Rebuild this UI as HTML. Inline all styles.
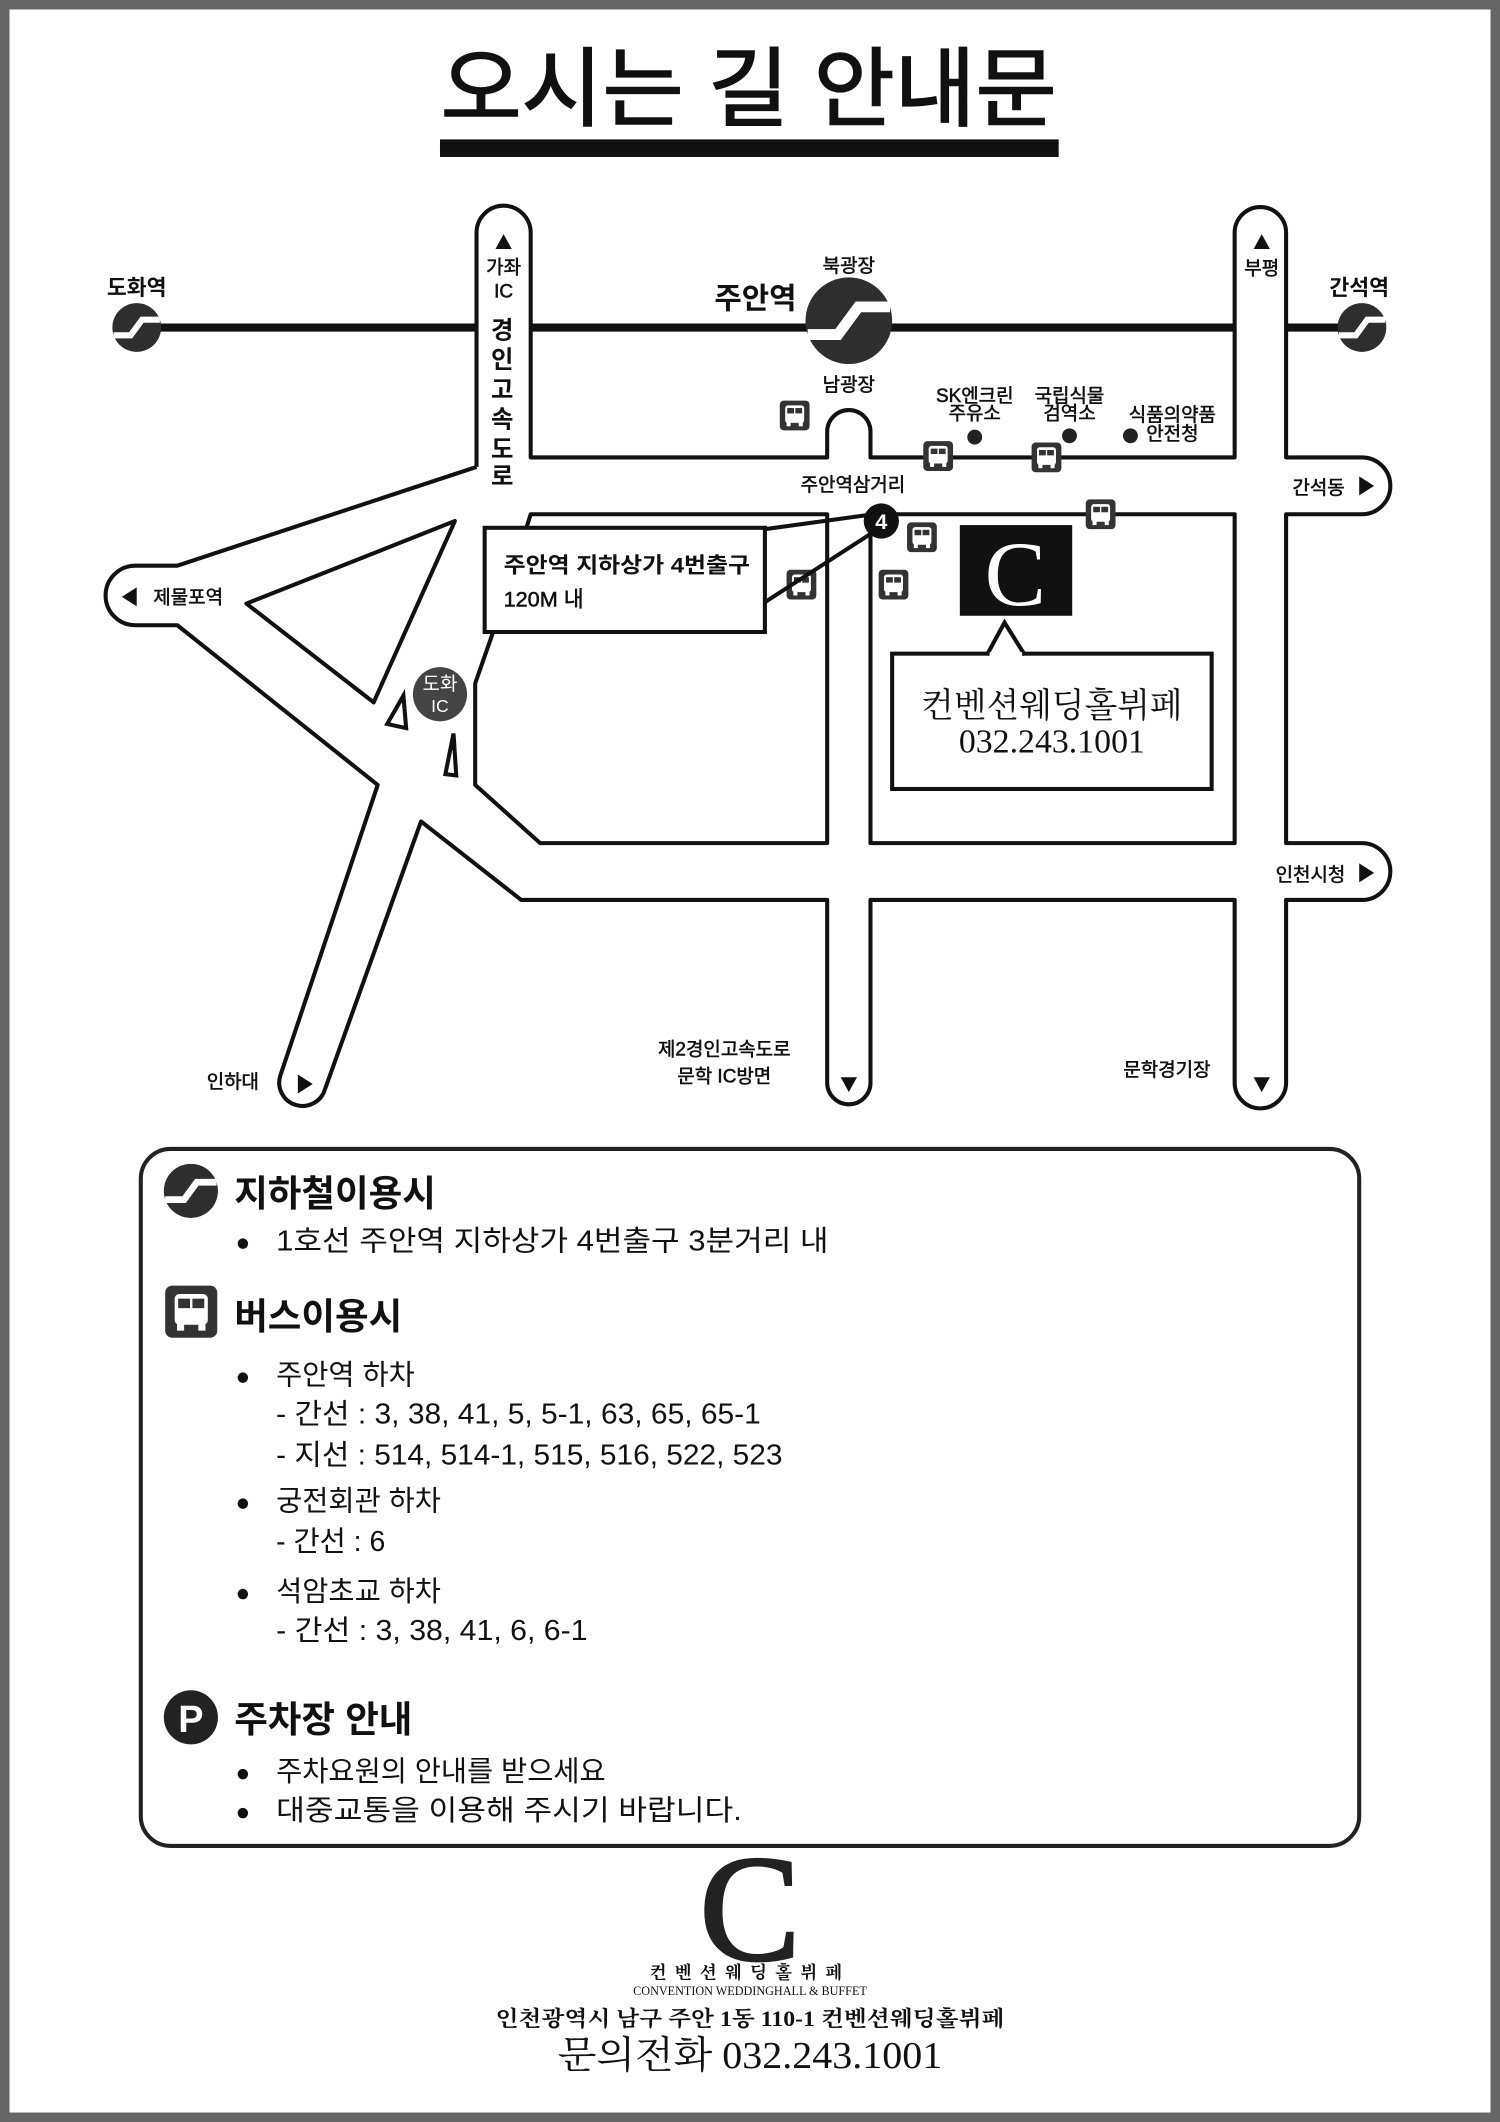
<!DOCTYPE html>
<html><head><meta charset="utf-8"><style>
html,body{margin:0;padding:0;background:#fff}
svg{display:block}
text{font-family:"Liberation Sans","Noto Sans CJK KR",sans-serif;fill:#111}
.b{font-weight:bold}
.sf{font-family:"Liberation Serif","Noto Serif CJK SC",serif}
</style></head><body>
<svg width="1500" height="2122" viewBox="0 0 1108 1568" preserveAspectRatio="none" xmlns="http://www.w3.org/2000/svg">
<defs>
<g id="st"><circle r="1" fill="#2e2e2e"/><polyline points="-0.95,0.32 -0.25,0.32 0.22,-0.32 0.95,-0.32" fill="none" stroke="#fff" stroke-width="0.25"/></g>
<g id="bus"><rect x="0" y="0" width="22" height="22" rx="3" fill="#333"/><rect x="4" y="3.5" width="14" height="13" rx="2" fill="#fff"/><rect x="5.5" y="5.5" width="5" height="4" fill="#333"/><rect x="11.5" y="5.5" width="5" height="4" fill="#333"/><rect x="5" y="16" width="3" height="3" fill="#fff"/><rect x="14" y="16" width="3" height="3" fill="#fff"/></g>
</defs>
<rect x="0" y="0" width="1108" height="1568" fill="#666"/>
<rect x="7" y="7" width="1094" height="1554" fill="#fff"/>

<text x="553" y="88" font-size="64" text-anchor="middle" textLength="455" lengthAdjust="spacingAndGlyphs" stroke="#111" stroke-width="1.2">오시는 길 안내문</text>
<rect x="325" y="103" width="457" height="13" fill="#111"/>

<g stroke="#111" stroke-width="6">
<line x1="95" y1="242" x2="352" y2="242"/><line x1="392" y1="242" x2="912" y2="242"/><line x1="950" y1="242" x2="1012" y2="242"/>
</g>

<g fill="none" stroke="#111" stroke-width="3" stroke-linejoin="round">
<path d="M352,345 L352,172 A20,20 0 0 1 392,172 L392,338 L611,338 L611,319 A16,16 0 0 1 643,319 L643,338 L912,338 L912,172 A19,19 0 0 1 950,172 L950,338 L1006,338 A21,21 0 0 1 1006,380 L950,380 L950,623 L1006,623 A21,21 0 0 1 1006,665 L950,665 L950,800 A19,19 0 0 1 912,800 L912,665 L643,665 L643,800 A16,16 0 0 1 611,800 L611,665 L385,665 L311,607 L240,805 A17,17 0 0 1 207,795 L279,580 L131,462 L100,462 A22,22 0 0 1 100,418 L131,418 L352,345"/>
<path d="M182,446 L336,385 L276,519 Z"/>
<path d="M392,380 L611,380 L611,623 L399,623 L351,580 L351,505 L366,462 Z"/>
<rect x="643" y="380" width="269" height="243"/>
</g>
<polygon points="286,535 298,514 300,538" fill="#fff" stroke="#111" stroke-width="3"/>
<polygon points="329,572 335,542 337,573" fill="#fff" stroke="#111" stroke-width="3"/>

<use href="#st" transform="translate(101,242) scale(18)"/>
<use href="#st" transform="translate(627,237) scale(32)"/>
<use href="#st" transform="translate(1006,242) scale(18)"/>

<use href="#bus" x="576" y="296"/>
<use href="#bus" x="682" y="326"/>
<use href="#bus" x="762" y="327"/>
<use href="#bus" x="802" y="369"/>
<use href="#bus" x="670" y="386"/>
<use href="#bus" x="581" y="421"/>
<use href="#bus" x="649" y="421"/>

<circle cx="720" cy="323" r="5.5" fill="#222"/>
<circle cx="790" cy="322" r="5.5" fill="#222"/>
<circle cx="835" cy="322" r="5.5" fill="#222"/>

<g class="b" font-size="16" text-anchor="middle">
<text x="101" y="218">도화역</text>
<text x="1004" y="218">간석역</text>
</g>
<g font-size="14" text-anchor="middle" stroke="#111" stroke-width="0.4">
<text x="627" y="201">북광장</text>
<text x="627" y="289">남광장</text>
<text x="720" y="297">SK엔크린</text><text x="720" y="310">주유소</text>
<text x="790" y="297">국립식물</text><text x="790" y="310">검역소</text>
<text x="866" y="311">식품의약품</text><text x="866" y="325">안전청</text>
<text x="630" y="363">주안역삼거리</text>
<text x="372" y="202">가좌</text><text x="372" y="220">IC</text>
<text x="932" y="203">부평</text>
<text x="535" y="780">제2경인고속도로</text><text x="535" y="800">문학 IC방면</text>
<text x="862" y="795">문학경기장</text>
<text x="172" y="804">인하대</text>
<text x="974" y="365">간석동</text>
<text x="968" y="651">인천시청</text>
<text x="139" y="446">제물포역</text>
</g>
<text x="558" y="228" class="b" font-size="22" text-anchor="middle">주안역</text>
<g class="b" font-size="18" text-anchor="middle">
<text x="371" y="250">경</text><text x="371" y="272">인</text><text x="371" y="294">고</text><text x="371" y="316">속</text><text x="371" y="338">도</text><text x="371" y="358">로</text>
</g>
<g fill="#111">
<polygon points="372,173 366,184 378,184"/>
<polygon points="932,173 926,184 938,184"/>
<polygon points="1004,352 1015,359 1004,366"/>
<polygon points="1004,638 1015,645 1004,652"/>
<polygon points="101,434 90,441 101,448"/>
<polygon points="220,794 231,801 220,808"/>
<polygon points="621,796 633,796 627,807"/>
<polygon points="926,796 938,796 932,807"/>
</g>

<circle cx="325" cy="513" r="20" fill="#444"/>
<text x="325" y="510" font-size="14" text-anchor="middle" style="fill:#fff">도화</text>
<text x="325" y="526" font-size="13" text-anchor="middle" style="fill:#fff">IC</text>

<g stroke="#111" stroke-width="3" fill="#fff">
<polyline points="558,392 645,380" fill="none"/>
<polyline points="565,445 650,390" fill="none"/>
<rect x="358" y="390" width="207" height="77"/>
</g>
<circle cx="651" cy="385" r="13" fill="#111"/>
<text x="651" y="391" class="b" font-size="16" text-anchor="middle" style="fill:#fff">4</text>
<text x="372" y="423" class="b" font-size="16" textLength="182" lengthAdjust="spacingAndGlyphs">주안역 지하상가 4번출구</text>
<text x="372" y="448" font-size="16" stroke="#111" stroke-width="0.4">120M 내</text>

<rect x="709" y="388" width="83" height="67" fill="#111"/>
<text x="750" y="447" class="sf" font-size="68" text-anchor="middle" style="fill:#fff">C</text>
<g stroke="#111" stroke-width="3" fill="#fff">
<rect x="659" y="483" width="236" height="100"/>
<polyline points="729,484 742,460 757,484" />
</g>
<line x1="731" y1="484" x2="755" y2="484" stroke="#fff" stroke-width="4"/>
<text x="777" y="530" class="sf" font-size="25" text-anchor="middle">컨벤션웨딩홀뷔페</text>
<text x="777" y="556" class="sf" font-size="25" text-anchor="middle">032.243.1001</text>

<rect x="104" y="849" width="900" height="515" rx="22" fill="none" stroke="#222" stroke-width="3"/>
<use href="#st" transform="translate(141,880) scale(20)"/>
<text x="173" y="891" class="b" font-size="27">지하철이용시</text>
<g font-size="21">
<text x="174" y="924" font-size="18">●</text><text x="204" y="924" textLength="408" lengthAdjust="spacingAndGlyphs">1호선 주안역 지하상가 4번출구 3분거리 내</text>
</g>
<g transform="translate(122,950) scale(1.75)"><use href="#bus"/></g>
<text x="173" y="982" class="b" font-size="27">버스이용시</text>
<g font-size="21">
<text x="174" y="1023" font-size="18">●</text><text x="204" y="1023">주안역 하차</text>
<text x="204" y="1052" textLength="358" lengthAdjust="spacingAndGlyphs">- 간선 : 3, 38, 41, 5, 5-1, 63, 65, 65-1</text>
<text x="204" y="1082" textLength="374" lengthAdjust="spacingAndGlyphs">- 지선 : 514, 514-1, 515, 516, 522, 523</text>
<text x="174" y="1116" font-size="18">●</text><text x="204" y="1116">궁전회관 하차</text>
<text x="204" y="1146">- 간선 : 6</text>
<text x="174" y="1183" font-size="18">●</text><text x="204" y="1183">석암초교 하차</text>
<text x="204" y="1212" textLength="230" lengthAdjust="spacingAndGlyphs">- 간선 : 3, 38, 41, 6, 6-1</text>
</g>
<circle cx="141" cy="1269" r="20" fill="#222"/>
<text x="141" y="1280" class="b" font-size="28" text-anchor="middle" style="fill:#fff">P</text>
<text x="173" y="1280" class="b" font-size="27">주차장 안내</text>
<g font-size="21">
<text x="174" y="1316" font-size="18">●</text><text x="204" y="1316">주차요원의 안내를 받으세요</text>
<text x="174" y="1345" font-size="18">●</text><text x="204" y="1345" textLength="344" lengthAdjust="spacingAndGlyphs">대중교통을 이용해 주시기 바랍니다.</text>
</g>

<text x="554" y="1448" class="sf" font-size="112" text-anchor="middle" style="fill:#222" stroke="#222" stroke-width="2">C</text>
<text x="554" y="1462" class="b sf" font-size="13" text-anchor="middle" letter-spacing="6">컨벤션웨딩홀뷔페</text>
<text x="554" y="1474" class="sf" font-size="9" text-anchor="middle">CONVENTION WEDDINGHALL &amp; BUFFET</text>
<text x="554" y="1497" class="b sf" font-size="16" text-anchor="middle" textLength="376" lengthAdjust="spacingAndGlyphs">인천광역시 남구 주안 1동 110-1 컨벤션웨딩홀뷔페</text>
<text x="554" y="1528" class="sf" font-size="28" text-anchor="middle" textLength="284" lengthAdjust="spacingAndGlyphs">문의전화 032.243.1001</text>
</svg>
</body></html>
